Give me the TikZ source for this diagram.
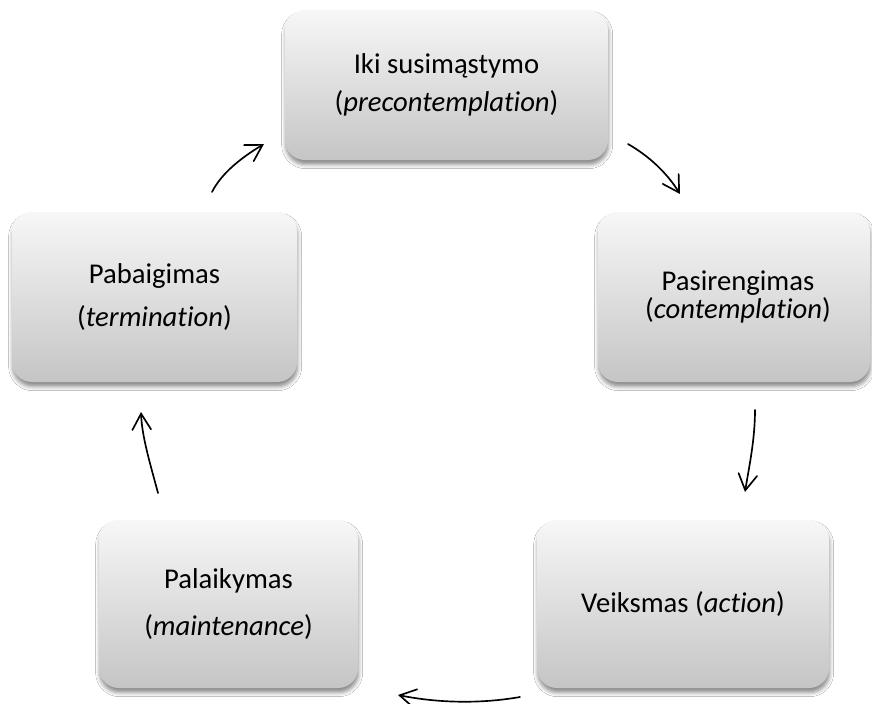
\documentclass[tikz,border=0pt]{standalone}
\usepackage{fontspec}
\setmainfont{Carlito}[Ligatures={NoCommon,NoContextual}]
\usetikzlibrary{arrows.meta,shadows.blur}
\definecolor{boxtop}{RGB}{247,247,247}
\definecolor{boxbot}{RGB}{197,197,197}
\begin{document}
\begin{tikzpicture}[x=0.75pt,y=-0.75pt,
  stage/.style={rounded corners=15pt, top color=boxtop, bottom color=boxbot,
    draw=none, align=center, inner sep=0pt,
    blur shadow={shadow xshift=0.5pt, shadow yshift=-3.5pt, shadow blur radius=3pt, shadow opacity=45}},
  conn/.style={line width=1.25pt, line cap=round,
    -{Straight Barb[length=12pt,width=14pt,line cap=round]}}]
\fill[white] (0,0) rectangle (872,704);
\useasboundingbox (0,0) rectangle (872,704);

\node[stage, minimum width=242.25pt, minimum height=112.5pt,
  font=\fontsize{21.5}{28.5}\selectfont] (pre) at (446.5,85)
  {Iki susimąstymo\\(\textit{precontemplation})};
\node[stage, minimum width=204pt, minimum height=127.5pt,
  font=\fontsize{21.5}{21}\selectfont] (con) at (734,297)
  {\hspace*{6pt}Pasirengimas\\\hspace*{6pt}(\textit{contemplation})};
\node[stage, minimum width=219pt, minimum height=126pt,
  font=\fontsize{21.5}{28.5}\selectfont] (act) at (683,604)
  {Veiksmas (\textit{action})};
\node[stage, minimum width=194.25pt, minimum height=126pt,
  font=\fontsize{21.5}{35}\selectfont] (mai) at (228.5,604)
  {Palaikymas\\(\textit{maintenance})};
\node[stage, minimum width=213.75pt, minimum height=127.5pt,
  font=\fontsize{21.5}{32}\selectfont] (ter) at (154.5,297)
  {Pabaigimas\\(\textit{termination})};

\coordinate (a1s) at (212,192); \coordinate (a1e) at (264,144);
\coordinate (a2s) at (628,144); \coordinate (a2e) at (680,194);
\coordinate (a3s) at (755,410); \coordinate (a3e) at (745,492);
\coordinate (a4s) at (520,697); \coordinate (a4e) at (398,695);
\coordinate (a5s) at (158,493); \coordinate (a5e) at (141,412);

\draw[conn] (a2s) .. controls +(21,12) and +(-13,-21) .. (a2e);
\draw[conn] (a3s) .. controls +(0,30) and +(4,-25) .. (a3e);
\draw[conn] (a4s) .. controls +(-40,7) and +(40,8) .. (a4e);
\draw[conn] (a5s) .. controls +(-8,-30) and +(1,25) .. (a5e);
\draw[conn] (a1s) .. controls +(10,-20) and +(-20,12) .. (a1e);
\end{tikzpicture}
\end{document}
